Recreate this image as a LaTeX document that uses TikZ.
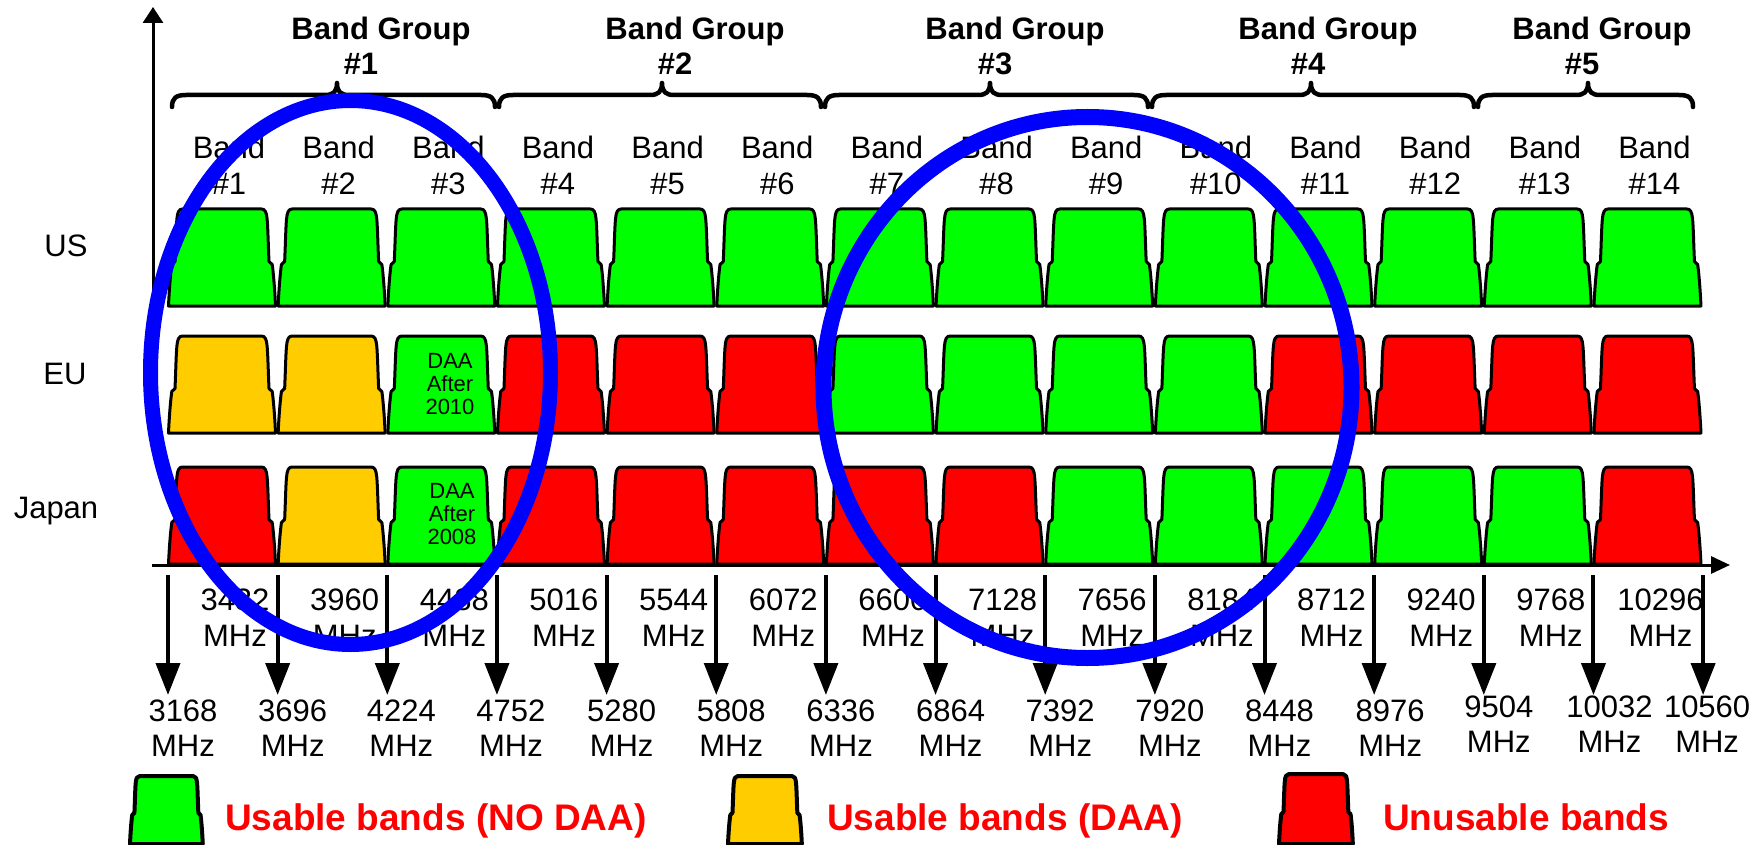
\documentclass[tikz,border=0pt]{standalone}
\usepackage{fontspec}
\setmainfont{Liberation Sans}
\usetikzlibrary{arrows.meta}
\definecolor{bgreen}{RGB}{0,255,0}
\definecolor{byellow}{RGB}{255,204,0}
\definecolor{bred}{RGB}{255,0,0}
\definecolor{ringblue}{RGB}{0,0,255}
\definecolor{legred}{RGB}{255,0,0}
\begin{document}
\begin{tikzpicture}[x=1pt,y=1pt,
  bandline/.style={draw=black, line width=3pt, line join=round},
  pics/bandshape/.style={code={
    \path[bandline, fill=#1] (0,0) .. controls (0.8,18) and (2.2,34) .. (3.3,41.5) -- (6.5,44.5)
      .. controls (7.3,62) and (7.6,79) .. (8.4,87) .. controls (9,94) and (10.5,97) .. (14,97)
      -- (93,97) .. controls (96.5,97) and (98,94) .. (98.6,87)
      .. controls (99.4,79) and (99.7,62) .. (100.5,44.5) -- (103.7,41.5)
      .. controls (104.8,34) and (106.2,18) .. (107,0) -- cycle;
  }},
  lbl/.style={font=\fontsize{31}{36}\selectfont, inner sep=0pt, align=center},
  lbllow/.style={font=\fontsize{31}{35}\selectfont, inner sep=0pt, align=center},
  grp/.style={font=\bfseries\fontsize{31}{35}\selectfont, inner sep=0pt, align=center},
  daa/.style={font=\fontsize{22}{23}\selectfont, inner sep=0pt, align=center},
  leg/.style={font=\bfseries\fontsize{37}{40}\selectfont, text=legred, inner sep=0pt, anchor=base west},
  rowlbl/.style={font=\fontsize{31}{36}\selectfont, inner sep=0pt, anchor=base},
  axisline/.style={line width=3pt},
  darrow/.style={line width=4pt, -{Triangle[length=32pt,width=24pt]}},
  brc/.style={line width=4.5pt, line cap=round, line join=round},
  ring/.style={draw=ringblue}
]
\useasboundingbox (0,0) rectangle (1764,-845);

% axes
\coordinate (yo) at (153,-305);
\coordinate (ye) at (153,-7);
\draw[axisline, -{Triangle[length=16pt,width=20pt]}] (yo) -- (ye);

% bands
\foreach \i/\ce/\cj in {1/byellow/bred, 2/byellow/byellow, 3/bgreen/bgreen, 4/bred/bred,
  5/bred/bred, 6/bred/bred, 7/bgreen/bred, 8/bgreen/bred, 9/bgreen/bgreen, 10/bgreen/bgreen,
  11/bred/bgreen, 12/bred/bgreen, 13/bred/bgreen, 14/bred/bred} {
  \pgfmathsetmacro{\ax}{168+(\i-1)*109.65}
  \pic (us\i) at (\ax+0.5,-306) {bandshape=bgreen};
  \pic (eu\i) at (\ax+0.5,-433) {bandshape=\ce};
  \pic (jp\i) at (\ax+0.5,-564) {bandshape=\cj};
  \node[lbl] (bl\i) at (\ax+61,-165) {Band\\\#\i};
  \pgfmathtruncatemacro{\fu}{3432+528*(\i-1)}
  \node[lbl] (fu\i) at (\ax+67,-617.9) {\fu\\MHz};
}

\coordinate (xo) at (152,-565);
\coordinate (xe) at (1730,-565);
\draw[axisline, -{Triangle[length=19pt,width=17pt]}] (xo) -- (xe);

% boundary arrows and lower labels
\foreach \i/\dx/\yy in {1/15/728.4, 2/15/728.4, 3/14/728.4, 4/14/728.4, 5/15/728.4, 6/15/728.4,
  7/15/728.4, 8/15/728.4, 9/15/728.4, 10/15/728.4, 11/15/728.4, 12/16/728.4,
  13/15/724.4, 14/16/724.4, 15/4/724.4} {
  \pgfmathsetmacro{\ax}{168+(\i-1)*109.65}
  \coordinate (at\i) at (\ax,-575);
  \coordinate (ab\i) at (\ax,-695);
  \draw[darrow] (at\i) -- (ab\i);
  \pgfmathtruncatemacro{\fl}{3168+528*(\i-1)}
  \node[lbllow] (fl\i) at (\ax+\dx,-\yy) {\fl\\MHz};
}

% DAA notes
\node[daa] (daaeu) at (450,-384) {DAA\\After\\2010};
\node[daa] (daajp) at (452,-514) {DAA\\After\\2008};

% row labels
\node[rowlbl] (rus) at (66,-256) {US};
\node[rowlbl] (reu) at (65,-384) {EU};
\node[rowlbl] (rjp) at (56,-518) {Japan};

% braces
\foreach \l/\tp/\r in {172/337/495, 499/662/821, 825/990/1148, 1152/1311/1474, 1478/1588/1693} {
  \draw[brc] (\l,-107) .. controls (\l,-98) and (\l+4,-95) .. (\l+14,-95) -- (\tp-12,-95)
    .. controls (\tp-4,-95) and (\tp,-92) .. (\tp,-83)
    .. controls (\tp,-92) and (\tp+4,-95) .. (\tp+12,-95) -- (\r-14,-95)
    .. controls (\r-4,-95) and (\r,-98) .. (\r,-107);
}

% group labels
\foreach \n/\gx in {1/381, 2/695, 3/1015, 4/1328, 5/1602} {
  \node[grp] (grp\n) at (\gx,-46) {Band Group\\\#\n\rule{40pt}{0pt}};
}

% legend
\begin{scope}[bandline/.append style={line width=4pt}]
  \pic[xscale=0.68, yscale=0.70] (lg1) at (130,-844) {bandshape=bgreen};
  \pic[xscale=0.69, yscale=0.70] (lg2) at (728,-844) {bandshape=byellow};
  \pic[xscale=0.69, yscale=0.72] (lg3) at (1279,-844) {bandshape=bred};
\end{scope}
\node[leg] (lt1) at (225,-830) {Usable bands (NO DAA)};
\node[leg] (lt2) at (827,-830) {Usable bands (DAA)};
\node[leg] (lt3) at (1383,-830) {Unusable bands};

% rings
\draw[ring, line width=15pt] (350.5,-372.5) ellipse [x radius=200, y radius=272];
\draw[ring, line width=16pt] (1087.5,-387.5) ellipse [x radius=264, y radius=270.5];
\end{tikzpicture}
\end{document}
